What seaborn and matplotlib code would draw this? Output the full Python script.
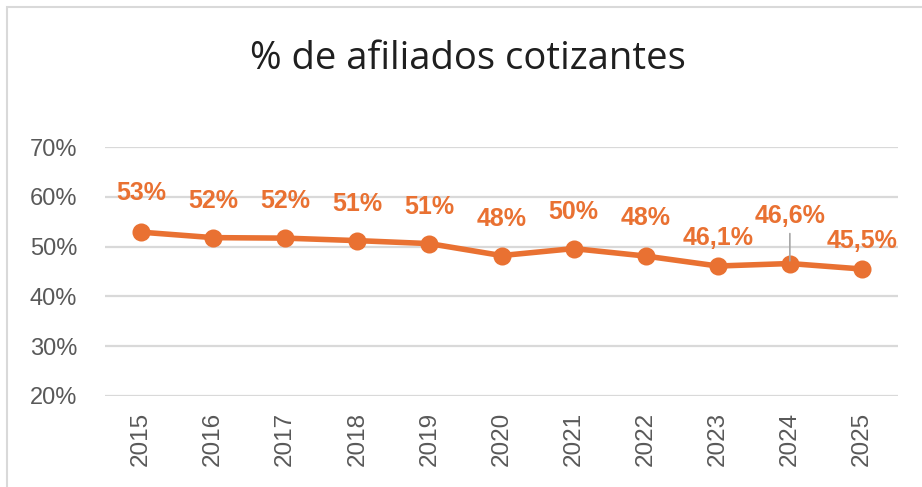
import matplotlib
matplotlib.use("Agg")
import matplotlib.pyplot as plt
import seaborn as sns
import pandas as pd
from matplotlib.patches import Rectangle

years = ["2015", "2016", "2017", "2018", "2019", "2020", "2021", "2022", "2023", "2024", "2025"]
values = [52.9, 51.8, 51.7, 51.2, 50.6, 48.2, 49.6, 48.1, 46.1, 46.6, 45.5]
labels = ["53%", "52%", "52%", "51%", "51%", "48%", "50%", "48%", "46,1%", "46,6%", "45,5%"]
yticks = [20, 30, 40, 50, 60, 70]
ytick_labels = ["20%", "30%", "40%", "50%", "60%", "70%"]
title = "% de afiliados cotizantes"

ORANGE = "#E97132"
GRID = "#D9D9D9"
TICK = "#595959"

sns.set_theme(style="white")
plt.rcParams["font.family"] = ["Liberation Sans", "DejaVu Sans"]

df = pd.DataFrame({"year": years, "value": values})

fig = plt.figure(figsize=(9.22, 4.87), dpi=100)
W, H = 922, 487
ax = fig.add_axes([105 / W, 1 - 396 / H, (898 - 105) / W, (396 - 147) / H])

sns.pointplot(data=df, x="year", y="value", color=ORANGE, ax=ax,
              markersize=10, linewidth=4, zorder=3)
ax.set_xlim(-0.5, len(years) - 0.5)
ax.set_ylim(20, 70)
ax.set_yticks(yticks)
ax.set_yticklabels(ytick_labels)
ax.set_xlabel("")
ax.set_ylabel("")
for s in ax.spines.values():
    s.set_visible(False)
ax.grid(False)
for t in yticks:
    ax.axhline(t, color=GRID, lw=1.6, zorder=1)
ax.tick_params(axis="y", length=0, pad=28 * 72 / 100, labelsize=17, labelcolor=TICK)
ax.tick_params(axis="x", length=0, pad=16 * 72 / 100, labelsize=17.5, labelcolor=TICK,
               labelrotation=90)

offsets = [39, 37, 37, 37, 37, 37, 37, 38, 28, 48, 28]
for i, (v, lab) in enumerate(zip(values, labels)):
    if lab == "46,6%":
        ax.annotate(lab, xy=(i, v), xytext=(0, offsets[i]), textcoords="offset pixels",
                    ha="center", va="center", color=ORANGE, fontsize=18,
                    fontweight="bold", zorder=5,
                    arrowprops=dict(arrowstyle="-", color="#A6A6A6", lw=1.2,
                                    shrinkA=2, shrinkB=2))
    else:
        ax.annotate(lab, xy=(i, v), xytext=(0, offsets[i]), textcoords="offset pixels",
                    ha="center", va="center", color=ORANGE, fontsize=18,
                    fontweight="bold", zorder=5)

fig.text(468 / W, 1 - 59 / H, title, ha="center", va="center", fontsize=27.5,
         color="#1F1F1F", family=["Open Sans", "DejaVu Sans"])

fig.patches.append(Rectangle((7 / W, -0.05), 1.1, 1 - 6.5 / H + 0.05,
                             transform=fig.transFigure, fill=False,
                             edgecolor=GRID, lw=1.5))

fig.savefig("out.png", dpi=100)
